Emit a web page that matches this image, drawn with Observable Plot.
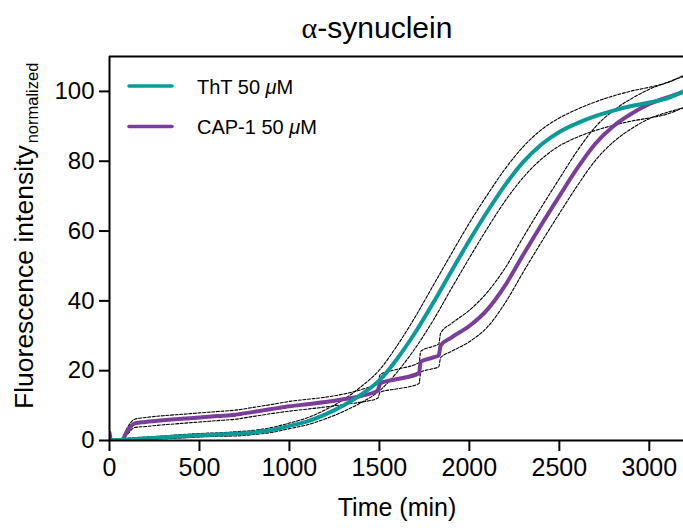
<!DOCTYPE html>
<html>
<head>
<meta charset="utf-8">
<script src="https://cdn.jsdelivr.net/npm/d3@7"></script>
<script src="https://cdn.jsdelivr.net/npm/@observablehq/plot@0.6"></script>
<style>
  html, body { margin: 0; padding: 0; background: #fff; }
  #chart { width: 683px; height: 528px; }
</style>
</head>
<body>
<div id="chart"></div>
<script>
// ---- Data ----
const titleText = "synuclein";
const seriesNames = ["ThT 50 ", "CAP-1 50 "];
const seriesColors = ["#0a9a98", "#7b3d9b"];
const xTicks = [0, 500, 1000, 1500, 2000, 2500, 3000];
const yTicks = [0, 20, 40, 60, 80, 100];
const xDomain = [0, 3190];
const yDomain = [0, 110];

// ThT 50 µM
const thtTime = [0,100,200,300,400,500,600,700,800,900,1000,1100,1200,1300,1400,1500,1600,1700,1800,1900,2000,2100,2200,2300,2400,2500,2600,2700,2800,2900,3000,3100,3190];
const thtMean = [0,0.3,0.6,0.9,1.2,1.5,1.7,1.9,2.3,3.0,4.2,5.5,7.5,10.0,13.2,17.2,23.5,31.0,39.5,48.5,57.3,65.6,73.3,79.8,84.8,88.4,90.9,92.9,94.5,95.8,96.8,98.0,100];
const thtSd   = [0,0.3,0.4,0.4,0.5,0.5,0.5,0.6,0.6,0.7,0.8,1.0,1.3,1.7,2.3,3.0,3.8,4.5,5.0,5.0,5.0,4.8,4.6,4.4,4.2,4.0,4.0,4.1,4.2,4.3,4.4,4.5,4.6];

// CAP-1 50 µM
const capTime = [0,8,20,65,100,140,200,300,400,500,600,700,800,900,1000,1100,1200,1300,1400,1490,1505,1600,1720,1730,1800,1830,1840,1900,2000,2100,2200,2300,2400,2500,2600,2700,2800,2900,3000,3100,3190];
const capMean = [2.2,0.3,0,0,2.8,4.9,5.3,5.8,6.2,6.6,7.0,7.4,8.2,9.0,9.8,10.4,11.0,11.8,12.8,14.3,16.4,17.6,19.3,22.6,23.8,24.4,27.2,29.5,32.8,37.5,44.5,53.3,61.8,70.0,78.0,85.0,90.0,93.6,96.4,98.3,99.8];
const capSd   = [0.2,0.2,0.2,0.3,1.0,1.2,1.3,1.3,1.3,1.3,1.3,1.3,1.3,1.3,1.4,1.4,1.4,1.5,1.8,2.2,2.5,2.8,3.0,3.0,3.2,3.3,3.5,4.0,4.5,5.0,5.0,5.0,5.0,5.0,5.0,4.8,4.5,4.3,4.2,4.3,4.5];

// ---- Build tables ----
const tht = thtTime.map((t, i) => ({t, y: thtMean[i], lo: thtMean[i] - thtSd[i], hi: thtMean[i] + thtSd[i]}));
const cap = capTime.map((t, i) => ({t, y: capMean[i], lo: capMean[i] - capSd[i], hi: capMean[i] + capSd[i]}));

const dash = {stroke: "#000", strokeWidth: 1.1, strokeDasharray: "3,1.6", clip: true, curve: "monotone-x"};

const chart = Plot.plot({
  width: 683,
  height: 528,
  marginLeft: 109,
  marginRight: 0,
  marginTop: 56,
  marginBottom: 88,
  style: {fontFamily: "'Liberation Sans', Arial, Helvetica, sans-serif", color: "#000", background: "#fff"},
  x: {domain: xDomain},
  y: {domain: yDomain},
  marks: [
    Plot.line(cap, {x: "t", y: "hi", ...dash}),
    Plot.line(cap, {x: "t", y: "lo", ...dash}),
    Plot.line(tht, {x: "t", y: "hi", ...dash}),
    Plot.line(tht, {x: "t", y: "lo", ...dash}),
    Plot.line(cap, {x: "t", y: "y", stroke: seriesColors[1], strokeWidth: 4, curve: "monotone-x", clip: true}),
    Plot.line(tht, {x: "t", y: "y", stroke: seriesColors[0], strokeWidth: 4, curve: "monotone-x", clip: true}),
    Plot.ruleY([yDomain[1]], {stroke: "#000", strokeWidth: 2}),
    Plot.ruleY([yDomain[0]], {stroke: "#000", strokeWidth: 2}),
    Plot.ruleX([xDomain[0]], {stroke: "#000", strokeWidth: 2}),
    Plot.axisX({ticks: xTicks, tickFormat: d => String(d), tickSize: 11, tickPadding: 7, fontSize: 25, strokeWidth: 2, label: null}),
    Plot.axisY({ticks: yTicks, tickFormat: d => String(d), tickSize: 10, tickPadding: 5, fontSize: 24, strokeWidth: 2, label: null})
  ]
});

document.getElementById("chart").appendChild(chart);

const svg = d3.select(chart);
const ff = "'Liberation Sans', Arial, Helvetica, sans-serif";

// Title
const title = svg.append("text")
  .attr("x", 377).attr("y", 38)
  .attr("text-anchor", "middle")
  .attr("font-family", ff)
  .attr("font-size", 30)
  .attr("fill", "#000");
title.append("tspan").attr("font-family", "'Liberation Serif', 'Times New Roman', serif").text("α");
title.append("tspan").text("-" + titleText);

// Y label
const yl = svg.append("text")
  .attr("transform", "translate(33,409) rotate(-90)")
  .attr("text-anchor", "start")
  .attr("font-family", ff)
  .attr("font-size", 26.5)
  .attr("fill", "#000");
yl.append("tspan").text("Fluorescence intensity");
yl.append("tspan").attr("font-size", 16.5).attr("dy", 5).attr("dx", 2).text("normalized");

// X label
svg.append("text")
  .attr("x", 397).attr("y", 516)
  .attr("text-anchor", "middle")
  .attr("font-family", ff)
  .attr("font-size", 25)
  .attr("fill", "#000")
  .text("Time (min)");

// Legend
seriesNames.forEach((name, i) => {
  const cy = 86 + i * 40.5;
  svg.append("line")
    .attr("x1", 129).attr("x2", 172)
    .attr("y1", cy).attr("y2", cy)
    .attr("stroke", seriesColors[i])
    .attr("stroke-width", 3.5)
    .attr("stroke-linecap", "round");
  const t = svg.append("text")
    .attr("x", 197).attr("y", cy + 7.5)
    .attr("text-anchor", "start")
    .attr("font-family", ff)
    .attr("font-size", 20)
    .attr("fill", "#000");
  t.append("tspan").text(name);
  t.append("tspan").attr("font-style", "italic").text("μ");
  t.append("tspan").text("M");
});
</script>
</body>
</html>
